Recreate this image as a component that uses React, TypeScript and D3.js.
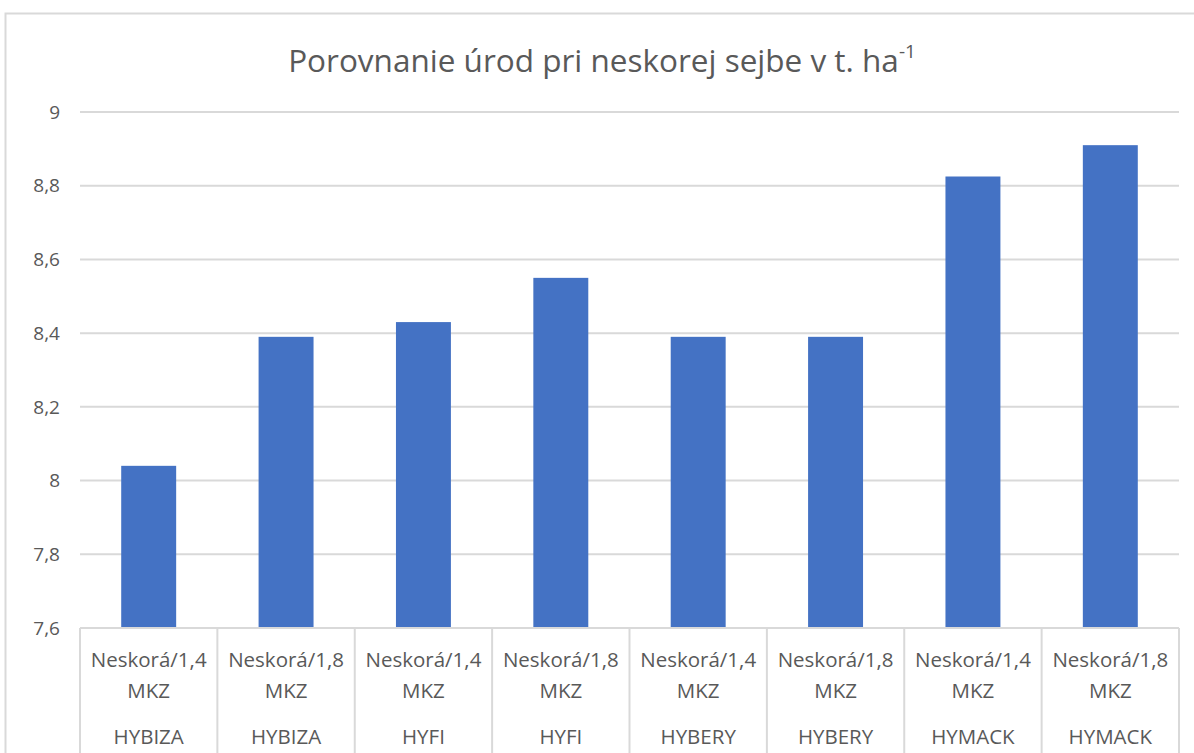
import React, { useEffect, useRef } from "react";
import * as d3 from "d3";

const varieties = ["HYBIZA", "HYBIZA", "HYFI", "HYFI", "HYBERY", "HYBERY", "HYMACK", "HYMACK"];
const sowing = ["Neskorá/1,4", "Neskorá/1,8", "Neskorá/1,4", "Neskorá/1,8", "Neskorá/1,4", "Neskorá/1,8", "Neskorá/1,4", "Neskorá/1,8"];
const yields = [8.04, 8.39, 8.43, 8.55, 8.39, 8.39, 8.825, 8.91];
const yTicks = [7.6, 7.8, 8, 8.2, 8.4, 8.6, 8.8, 9];

const W = 1194;
const H = 753;
const FONT = "'Open Sans', sans-serif";
const GREY = "#595959";

const App = () => {
  const ref = useRef<SVGSVGElement | null>(null);

  useEffect(() => {
    const svg = d3.select(ref.current);
    svg.selectAll("*").remove();

    const left = 80;
    const right = 1179;
    const top = 112;
    const bottom = 628;

    // outer chart border
    svg
      .append("path")
      .attr("d", `M5.5,${H} V13.5 H${W}`)
      .attr("fill", "none")
      .attr("stroke", "#d9d9d9")
      .attr("stroke-width", 2);

    // title
    const title = svg
      .append("text")
      .attr("x", 602)
      .attr("y", 72)
      .attr("text-anchor", "middle")
      .attr("font-family", FONT)
      .attr("font-size", 31.5)
      .attr("fill", GREY);
    title.append("tspan").text("Porovnanie úrod pri neskorej sejbe v t. ha");
    title.append("tspan").attr("font-size", 19).attr("dy", -14).text("-1");

    const x = d3
      .scaleBand<number>()
      .domain(d3.range(yields.length))
      .range([left, right])
      .paddingInner(0.6)
      .paddingOuter(0.3);
    const step = (right - left) / yields.length;

    const y = d3.scaleLinear().domain([7.6, 9]).range([bottom, top]);

    // gridlines
    svg
      .append("g")
      .selectAll("line")
      .data(yTicks.slice(1))
      .enter()
      .append("line")
      .attr("x1", left)
      .attr("x2", right)
      .attr("y1", (d) => y(d))
      .attr("y2", (d) => y(d))
      .attr("stroke", "#d9d9d9")
      .attr("stroke-width", 2);

    // y labels
    svg
      .append("g")
      .selectAll("text")
      .data(yTicks)
      .enter()
      .append("text")
      .attr("x", 60)
      .attr("y", (d) => y(d))
      .attr("dy", "0.35em")
      .attr("text-anchor", "end")
      .attr("font-family", FONT)
      .attr("font-size", 19)
      .attr("fill", GREY)
      .text((d) => d3.format(".1~f")(d).replace(".", ","));

    // bars
    svg
      .append("g")
      .selectAll("rect")
      .data(yields)
      .enter()
      .append("rect")
      .attr("x", (_, i) => x(i)!)
      .attr("width", x.bandwidth())
      .attr("y", (d) => y(d))
      .attr("height", (d) => bottom - y(d))
      .attr("fill", "#4472c4");

    // category axis
    svg
      .append("line")
      .attr("x1", left)
      .attr("x2", right)
      .attr("y1", bottom)
      .attr("y2", bottom)
      .attr("stroke", "#d9d9d9")
      .attr("stroke-width", 2);

    svg
      .append("g")
      .selectAll("line")
      .data(d3.range(yields.length + 1))
      .enter()
      .append("line")
      .attr("x1", (i) => left + i * step)
      .attr("x2", (i) => left + i * step)
      .attr("y1", bottom)
      .attr("y2", H)
      .attr("stroke", "#d9d9d9")
      .attr("stroke-width", 2);

    const cats = svg
      .append("g")
      .selectAll("g")
      .data(yields)
      .enter()
      .append("g")
      .attr("transform", (_, i) => `translate(${left + (i + 0.5) * step},0)`)
      .attr("font-family", FONT)
      .attr("font-size", 20.5)
      .attr("fill", GREY)
      .attr("text-anchor", "middle");

    cats.append("text").attr("y", 667).text((_, i) => sowing[i]);
    cats.append("text").attr("y", 698).text("MKZ");
    cats.append("text").attr("y", 744).text((_, i) => varieties[i]);
  }, []);

  return (
    <svg
      ref={ref}
      width={W}
      height={H}
      style={{ position: "absolute", left: 0, top: 0, background: "#fff" }}
    />
  );
};

export default App;
